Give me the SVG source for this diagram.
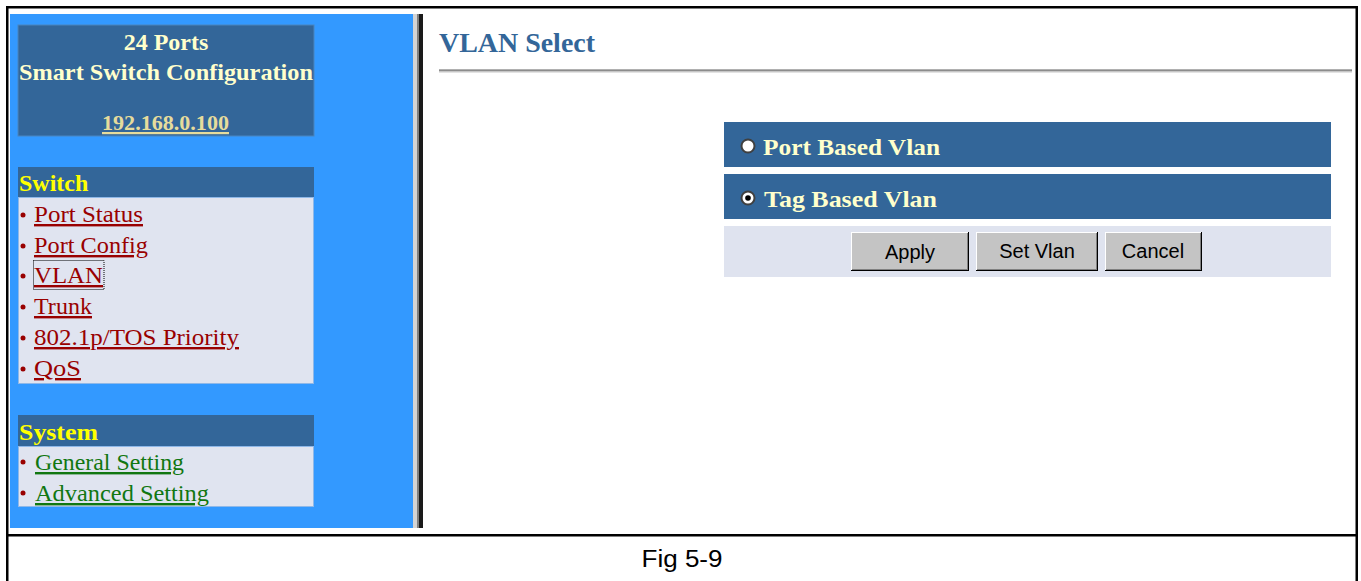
<svg xmlns="http://www.w3.org/2000/svg" width="1361" height="581" viewBox="0 0 1361 581">
<style>
.serif{font-family:"Liberation Serif","Times New Roman",serif}
.hdr{font-family:"Liberation Serif",serif;font-weight:bold;font-size:24px;fill:#ffffcc}
.sec{font-family:"Liberation Serif",serif;font-weight:bold;font-size:24px;fill:#ffff00}
.lnk{font-family:"Liberation Serif",serif;font-size:24px;fill:#990000;text-decoration:underline}
.glnk{font-family:"Liberation Serif",serif;font-size:24px;fill:#117711;text-decoration:underline}
.bul{fill:#990000}
.bar{fill:#336699}
.opt{font-family:"Liberation Serif",serif;font-weight:bold;font-size:24px;fill:#ffffcc}
.btn{font-family:"Liberation Sans",Arial,sans-serif;font-size:20px;fill:#000}
.radio{fill:#ffffff;stroke:#404040;stroke-width:2}
</style>
<rect width="1361" height="581" fill="#ffffff"/>
<!-- outer frame -->
<g id="frame" fill="#000">
<rect x="6" y="6" width="1352" height="2.5"/>
<rect x="6" y="6" width="2.5" height="575"/>
<rect x="1355.5" y="6" width="2.5" height="575"/>
<rect x="6" y="534" width="1352" height="2.5"/>
</g>
<!-- left panel -->
<g id="leftpanel">
<rect x="10" y="14" width="403" height="514" fill="#3399ff"/>
<rect x="413" y="14" width="4" height="514" fill="#d4d4d4"/>
<rect x="417" y="14" width="2" height="514" fill="#808080"/>
<rect x="419" y="14" width="4" height="514" fill="#1a1a1a"/>
</g>
<g id="header">
<rect x="18" y="25" width="296" height="111" fill="#336699" stroke="#4a86c0" stroke-width="1"/>
<text class="hdr" x="166" y="50" text-anchor="middle">24 Ports</text>
<text class="hdr" x="166" y="80" text-anchor="middle" textLength="294" lengthAdjust="spacingAndGlyphs">Smart Switch Configuration</text>
<text x="165.5" y="130" text-anchor="middle" font-family="Liberation Serif,serif" font-weight="bold" font-size="22" fill="#e6dc9c" text-decoration="underline" textLength="127" lengthAdjust="spacingAndGlyphs">192.168.0.100</text>
</g>
<g id="switch-menu">
<rect x="18" y="167" width="296" height="30" fill="#336699"/>
<text class="sec" x="19" y="191">Switch</text>
<rect x="18.5" y="197.5" width="295" height="186" fill="#e0e4f0" stroke="#8fb8e8" stroke-width="1"/>
<circle class="bul" cx="23" cy="215" r="2.5"/>
<text class="lnk" x="34" y="222" textLength="109" lengthAdjust="spacingAndGlyphs">Port Status</text>
<circle class="bul" cx="23" cy="246" r="2.5"/>
<text class="lnk" x="34" y="253" textLength="114" lengthAdjust="spacingAndGlyphs">Port Config</text>
<circle class="bul" cx="23" cy="276" r="2.5"/>
<text class="lnk" x="34" y="283" textLength="69" lengthAdjust="spacingAndGlyphs">VLAN</text>
<rect x="33.5" y="260.5" width="70.5" height="29" fill="none" stroke="#000" stroke-width="1" stroke-dasharray="1,1"/>
<circle class="bul" cx="23" cy="307" r="2.5"/>
<text class="lnk" x="34" y="314" textLength="58" lengthAdjust="spacingAndGlyphs">Trunk</text>
<circle class="bul" cx="23" cy="338" r="2.5"/>
<text class="lnk" x="34" y="345" textLength="205" lengthAdjust="spacingAndGlyphs">802.1p/TOS Priority</text>
<circle class="bul" cx="23" cy="369" r="2.5"/>
<text class="lnk" x="34" y="376" textLength="47" lengthAdjust="spacingAndGlyphs">QoS</text>
</g>
<g id="system-menu">
<rect x="18" y="415" width="296" height="31" fill="#336699"/>
<text class="sec" x="19" y="440" textLength="79" lengthAdjust="spacingAndGlyphs">System</text>
<rect x="18.5" y="446.5" width="295" height="60" fill="#e0e4f0" stroke="#8fb8e8" stroke-width="1"/>
<circle class="bul" cx="23" cy="462" r="2.5"/>
<text class="glnk" x="35" y="470" textLength="149" lengthAdjust="spacingAndGlyphs">General Setting</text>
<circle class="bul" cx="23" cy="493" r="2.5"/>
<text class="glnk" x="35" y="501" textLength="174" lengthAdjust="spacingAndGlyphs">Advanced Setting</text>
</g>
<!-- right panel -->
<g id="title">
<text x="439" y="52" font-family="Liberation Serif,serif" font-weight="bold" font-size="27" fill="#336699" textLength="156" lengthAdjust="spacingAndGlyphs">VLAN Select</text>
<rect x="439" y="69" width="913" height="1" fill="#b0b0b0"/>
<rect x="439" y="70" width="913" height="1.5" fill="#8c8c8c"/>
<rect x="439" y="71.5" width="913" height="1" fill="#c8c8c8"/>
</g>
<g id="port-based">
<rect class="bar" x="724" y="122" width="607" height="45"/>
<circle class="radio" cx="748" cy="146" r="6.5"/>
<text class="opt" x="763" y="155" textLength="177" lengthAdjust="spacingAndGlyphs">Port Based Vlan</text>
</g>
<g id="tag-based">
<rect class="bar" x="724" y="174" width="607" height="45"/>
<circle class="radio" cx="748" cy="198" r="6.5"/>
<circle cx="748" cy="198" r="2.8" fill="#000"/>
<text class="opt" x="764" y="207" textLength="173" lengthAdjust="spacingAndGlyphs">Tag Based Vlan</text>
</g>
<g id="buttons">
<rect x="724" y="226" width="607" height="51" fill="#dfe3ef"/>
<g id="btn-apply">
<rect x="851" y="232" width="118" height="39" fill="#000"/>
<rect x="851" y="232" width="117" height="38" fill="#ffffff"/>
<rect x="852" y="233" width="116" height="37" fill="#808080"/>
<rect x="852" y="233" width="115" height="36" fill="#c4c4c4"/>
<text class="btn" x="910" y="259" text-anchor="middle">Apply</text>
</g>
<g id="btn-setvlan">
<rect x="976" y="232" width="122" height="39" fill="#000"/>
<rect x="976" y="232" width="121" height="38" fill="#ffffff"/>
<rect x="977" y="233" width="120" height="37" fill="#808080"/>
<rect x="977" y="233" width="119" height="36" fill="#c4c4c4"/>
<text class="btn" x="1037" y="258" text-anchor="middle">Set Vlan</text>
</g>
<g id="btn-cancel">
<rect x="1105" y="232" width="97" height="39" fill="#000"/>
<rect x="1105" y="232" width="96" height="38" fill="#ffffff"/>
<rect x="1106" y="233" width="95" height="37" fill="#808080"/>
<rect x="1106" y="233" width="94" height="36" fill="#c4c4c4"/>
<text class="btn" x="1153" y="258" text-anchor="middle">Cancel</text>
</g>
</g>
<g id="caption">
<text x="682" y="567" text-anchor="middle" font-family="Liberation Sans,Arial,sans-serif" font-size="23" fill="#000" textLength="81" lengthAdjust="spacingAndGlyphs">Fig 5-9</text>
</g>
</svg>
